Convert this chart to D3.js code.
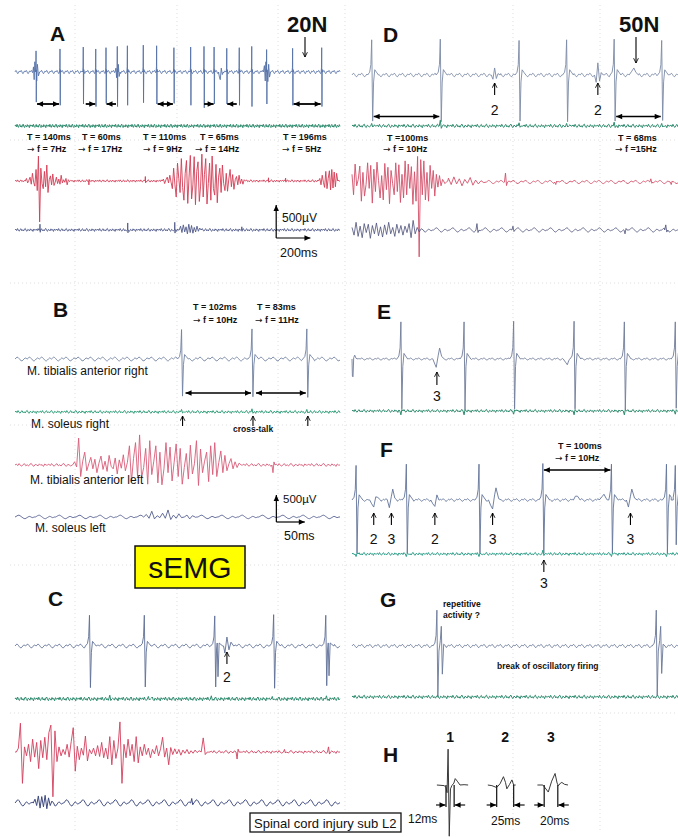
<!DOCTYPE html>
<html><head><meta charset="utf-8">
<script src="https://cdn.jsdelivr.net/npm/d3@7"></script>
<style>
body{margin:0;background:#fff}
svg{display:block}
text{font-family:'Liberation Sans',Arial,sans-serif;fill:#111}
.pl{font-weight:bold;font-size:21px}
.fn{font-weight:bold;font-size:22px}
.an{font-weight:bold;font-size:9px}
.ar{font-family:'DejaVu Sans',sans-serif;font-weight:normal}
.mu{font-size:12px}
.num{font-size:14px}
.hn{font-weight:bold;font-size:14px}
</style>
</head><body>
<svg id="c" width="678" height="837"></svg>
<script>
// ---------------- DATA ----------------
// baseline wiggle patterns (µV)
const noiseFine   = [0,14,-10,22,-6,-18,8,20,-12,4,-16,12,24,-8,-20,10,2,-14,18,-4,6,-22,16,-2];
const noiseRipple = [0,12,24,20,6,-10,-22,-24,-12,2,14,8];
const noiseSlow   = [0,8,18,26,28,20,8,-4,-16,-24,-26,-18,-8,2,10,6,-2,-10,-6,0];

// motor unit templates: [ms offset, relative amplitude]
const tplFast   = [[-3,0],[-1,0.2],[0,1],[1.5,-1],[3,0.1],[5,0]];
const tplMU     = [[-6,0],[-3,0.08],[-1.2,0.3],[0,1],[1.4,-1],[2.8,-0.15],[4.5,0.15],[7,0.08],[10,0]];
const tplDouble = [[-6,0],[-3,0.08],[-1.2,0.3],[0,1],[1.4,-1],[2.6,-0.1],[3.6,0.1],[4.8,-0.75],[6.5,0.1],[9,0.05],[12,0]];
const tplRep    = [[-6,0],[-3,0.08],[-1.2,0.3],[0,1],[1.4,-1],[3,-0.1],[5,0.15],[6.5,0.55],[8,-0.55],[10,0.05],[13,0]];
const tplP2     = [[-5,0],[-2.5,-0.6],[0,1],[2.5,-0.5],[5,0.2],[8,0]];
const tplBlip   = [[-1.5,0],[0,1],[1.5,-0.4],[3,0]];

// ---- Panel A (20N), ms ----
const A_tibR_spikes = [123,263,399,472,532,598,657,750,828,929,1027,1105,1164,1238,1311,1384,1471,1623,1793];
const A_tibR_up     = [330,360,390,360,380,400,410,420,410,380,390,400,390,370,380,400,350,370,380];
const A_tibR_down   = [470,520,500,540,490,540,520,480,500,490,520,560,500,500,520,540,500,520,540];
const A_tibR_smear  = [
  [[104,0],[108,80],[112,-120],[116,160],[127,-140],[131,120],[137,-60],[144,0]],
  [[585,0],[590,60],[594,-90],[604,120],[609,-70],[614,0]],
  [[1190,0],[1195,-80],[1200,-120],[1206,60],[1212,-40],[1218,0]],
  [[1452,0],[1458,100],[1463,-140],[1467,160],[1478,-150],[1483,120],[1488,-80],[1494,0]]];
const A_intervals = [[0,1,"in"],[3,4,"out"],[8,9,"in"],[12,13,"out"],[17,18,"in"]];
const A_texts = [["T = 140ms","f = 7Hz"],["T = 60ms","f = 17Hz"],["T = 110ms","f = 9Hz"],["T = 65ms","f = 14Hz"],["T = 196ms","f = 5Hz"]];
const A_red_b1 = [0,40,-30,10,60,-50,120,-20,-80,180,-150,390,-640,200,-40,-120,150,-90,250,-180,20,80,-60,110,-70,-20,60,-40,30,-50,90,-30,20,-20,40,-60,20,-10,10,0];
const A_red_b2 = [0,30,-40,20,60,-30,90,-20,-120,200,-60,-250,280,40,-180,350,-100,-300,120,320,-350,60,400,-280,-60,380,-370,150,300,-320,-80,420,-250,100,350,-360,-40,280,-300,390,-120,-220,260,-340,60,200,-180,250,-40,-150,120,-160,30,180,-90,100,-130,20,70,-60,90,-40,30,-50,20,0];
const A_red_b3 = [0,40,-60,90,-20,-100,150,-120,40,160,-140,180,-110,140,-90,120,0];
const A_red_blips = [[432,-60],[762,70],[1482,50],[1582,45]];
const A_nav_blips = [[146,90],[659,110],[934,120],[1326,50]];
const A_nav_b1 = [0,60,-40,80,-30,50,-60,90,-40,70,-50,40,-30,60,-20,30,0];

// ---- Panel D (50N), ms ----
const D_tibR_spikes = [29,130,246,316,386,456];
const D_tibR_up     = [550,560,540,550,560,540];
const D_tibR_down   = [720,730,720,730,720,710];
const D_pot2_times  = [210,362];
const D_pot2_amp    = [110,190];
const D_bump        = [[408,0],[412,60],[415,110],[418,40],[422,0]];
const D_intervals   = [[0,1],[4,5]];
const D_texts = [["T =100ms","f = 10Hz"],["T = 68ms","f =15Hz"]];
const D_grn_blips = [[29,40],[130,90],[246,50],[316,40],[386,60],[456,40]];
const D_red_b1 = [120,-200,280,-60,40,250,-300,150,-220,-40,300,-100,260,-330,200,-150,310,20,-250,100,-280,290,-120,230,-340,180,-20,-200,300,-150,270,-320,120,-250,330,-200,280,-100,240,-350,160,-300,400,-1170,350,-200,330,-280,150,-300,260,-100,180,-220,120,-80,100,-60,40,0];
const D_red_b2 = [60,-40,80,-30,50,-60,40,-20,70,-50,30,-30,20,-10,0];
const D_red_blips = [[226,140],[300,-40],[440,50],[470,-40]];
const D_nav_b1 = [40,-80,120,-100,60,-120,100,-40,90,-130,70,-60,110,-90,50,-110,80,-70,120,-60,40,-100,90,-50,70,-80,60,-40,100,-120,150,-60,40,-30,20,0];
const D_nav_blips = [[184,100],[237,60],[402,-60],[462,80]];

// ---- Panel B, ms ----
const B_tibR_spikes = [246,350,431];
const B_tibR_up     = [460,470,470];
const B_tibR_down   = [580,590,600];
const B_intervals   = [[0,1],[1,2]];
const B_texts = [["T = 102ms","f = 10Hz"],["T = 83ms","f = 11Hz"]];
const B_muscles = ["M. tibialis anterior right","M. soleus right","M. tibialis anterior left","M. soleus left"];
const B_grn_blips = [[246,40],[350,50],[431,40]];
const B_red_b1 = [0,50,-30,420,-180,60,200,-90,20,120,-60,90,-120,30,140,-70,60,-100,150,-20,-60,110,-140,80,-50,160,-90,40,300,-260,100,350,-180,470,-200,-40,260,-300,380,-150,60,300,-280,200,-310,-60,350,-120,280,-250,40,330,-180,260,-300,-40,180,-220,310,-140,20,380,-320,250,-120,60,200,-260,300,-150,350,-180,40,220,-120,150,-90,20,100,-60,50,-40,30,0];
const B_red_blips = [[381,-120]];
const B_nav_b1 = [0,40,-20,90,-30,20,-10,60,-20,110,-40,30,-20,50,-10,0,30,-30,20,0];

// ---- Panel C, ms ----
const C_tibR_spikes = [110,191,295,382,459];
const C_tibR_kind   = ["s","s","d","s","d"];
const C_tibR_up     = [480,480,470,490,480];
const C_tibR_down   = [650,640,640,660,620];
const C_pot2        = [[308,0],[310,-110],[313,140],[316,-60],[319,60],[323,0]];
const C_grn_blips   = [[140,60],[197,40],[290,50],[380,40],[460,50]];
const C_red_b1 = [0,60,450,-490,80,-60,120,-150,200,-80,150,-260,180,-90,230,-120,300,420,-700,330,-150,80,-60,40,-40,120,-80,160,380,-300,90,-120,60,-50,250,-140,40,-30,60,-60,100,-70,150,-90,60,-110,240,-200,180,-100,60,470,-490,120,-90,200,-60,120,-150,240,-170,80,-60,120,-40,60,-90,40,-30,100,-60,50,230,-80,60,-200,70,-40,50,-30,40,-50,30,-20,40,-30,20,-20,30,-10,20,0,220,-40,0];
const C_red_blips = [[328,-110],[398,40],[463,80]];
const C_nav_b1 = [0,60,-40,110,-80,100,-60,120,-90,80,-40,30,0];
const C_nav_blips = [[261,70]];

// ---- Panel E, ms ----
const E_tibR_spikes = [72,165,238,327,401,476];
const E_tibR_up     = [580,580,590,590,580,580];
const E_tibR_down   = [780,790,780,780,790,770];
const E_lead = [[0,0],[0.6,-270],[1.5,-280],[2.5,20],[4,60],[6,10],[9,0]];
const E_pot3 = [[119,0],[122,-80],[124,-130],[127,60],[129,170],[132,40],[136,0]];
const E_dip  = [[311,0],[315,-60],[317,-90],[319,-30]];
const E_grn_blips = [[72,-60],[165,-60],[238,-50],[327,-60],[401,-60],[476,-50]];

// ---- Panel F, ms ----
const F_tibR_spikes = [6,80,187,281,382,463,476];
const F_tibR_up     = [540,560,560,570,560,560,540];
const F_tibR_down   = [830,830,830,830,830,830,700];
const F_pots = [
  [[26,0],[29,-60],[32,-110],[35,50],[38,40],[42,0]],
  [[52,0],[55,-120],[58,60],[60,170],[63,30],[66,0]],
  [[116,0],[119,-60],[122,-100],[125,80],[128,0]],
  [[201,0],[204,-80],[207,-140],[210,80],[212,190],[216,20],[220,0]],
  [[326,0],[329,60],[332,60],[336,0]],
  [[364,0],[368,50],[371,90],[374,30],[378,0]],
  [[404,0],[407,-110],[410,60],[412,170],[416,30],[420,0]]];
const F_labels = [["2",32],["3",58],["2",122],["3",207],["3",410]];
const F_intervals = [[3,4]];
const F_texts = ["T = 100ms","f = 10Hz"];
const F_grn_blips = [[6,-40],[80,-40],[187,-40],[281,60],[382,-40],[463,-40]];

// ---- Panel G, ms ----
const G_tibR_spikes = [125,448];
const G_tibR_up     = [560,560];
const G_tibR_down   = [800,780];
const G_texts = ["repetitive","activity ?","break of oscillatory firing"];

// ---- Panel H (templates), ms / µV ----
const H_mu1 = [[125,0],[136,-10],[138.4,-40],[140,-120],[141.5,560],[143.2,-800],[145,-60],[147,-10],[150,30],[152,100],[155,60],[159,0],[165,5],[171,0]];
const H_mu2 = [[200,0],[206,-10],[213,-40],[218,20],[223,130],[226,40],[228,-60],[232,10],[235.5,80],[238,0],[241,0]];
const H_mu3 = [[273,0],[281,0],[284,-40],[289,-110],[294,60],[299,180],[302,30],[304,-10],[307,30],[309,40],[313,10],[318,0]];
const H_marks  = [[138.4,150.4],[213,238],[283,303]];
const H_names  = ["1","2","3"];
const H_widths = ["12ms","25ms","20ms"];

// ---------------- DRAWING ----------------
const svg = d3.select("#c");
const defs = svg.append("defs");
defs.append("marker").attr("id","ah").attr("viewBox","0 0 10 10").attr("refX",10).attr("refY",5)
  .attr("markerUnits","userSpaceOnUse").attr("markerWidth",7).attr("markerHeight",6).attr("orient","auto-start-reverse")
  .append("path").attr("d","M0,0.5 L10,5 L0,9.5 z").attr("fill","#000");
defs.append("marker").attr("id","ch").attr("viewBox","0 0 10 10").attr("refX",9).attr("refY",5)
  .attr("markerUnits","userSpaceOnUse").attr("markerWidth",6).attr("markerHeight",6).attr("orient","auto")
  .append("path").attr("d","M1,1 L9,5 L1,9").attr("fill","none").attr("stroke","#000").attr("stroke-width",1.4);
defs.append("clipPath").attr("id","clipL").append("rect").attr("x",12).attr("y",0).attr("width",331).attr("height",837);
defs.append("clipPath").attr("id","clipR").append("rect").attr("x",350).attr("y",0).attr("width",328).attr("height",837);

// faint paper grid
const gridG = svg.append("g").attr("stroke","#d6d6d6").attr("stroke-width",0.8).attr("stroke-dasharray","1,3");
[75,177,278,345,513,600].forEach(x=>gridG.append("line").attr("x1",x).attr("x2",x).attr("y1",5).attr("y2",832));
[140,283,425,565,713].forEach(y=>gridG.append("line").attr("x1",10).attr("x2",676).attr("y1",y).attr("y2",y));

const xA = d3.scaleLinear().domain([0,1900]).range([15,340]);
const xL = d3.scaleLinear().domain([0,480]).range([15,340]);
const xR = d3.scaleLinear().domain([0,480]).range([352,678]);
const yAt = base => d3.scaleLinear().domain([0,500]).range([base, base-32]);

function spikeGroups(times, ups, downs, tpl, kinds){
  return times.map((t,i)=>{
    const tp = kinds ? (kinds[i]==="d" ? tplDouble : tpl) : tpl;
    return tp.map(([dt,r])=>[t+dt, r>=0 ? r*ups[i] : r*downs[i]]);
  });
}
function burst(start, step, vals){ return [vals.map((v,i)=>[start+i*step, v])]; }
function blips(list, tpl){ return list.map(([t,a])=>tpl.map(([dt,r])=>[t+dt, r*a])); }
function potGroups(times, amps, tpl){ return times.map((t,i)=>tpl.map(([dt,r])=>[t+dt, r*amps[i]])); }

function trace(x, base, color, o){
  const y = yAt(base);
  const [d0,d1] = x.domain();
  const groups = o.groups || [];
  const spans = groups.map(g=>[d3.min(g,d=>d[0]), d3.max(g,d=>d[0])]);
  const pts = [];
  for(let i=0;;i++){
    const t = d0 + i*o.step; if(t>d1) break;
    if(spans.some(s=>t>=s[0]-o.step*0.5 && t<=s[1]+o.step*0.5)) continue;
    pts.push([t, o.noise[i%o.noise.length]*o.amp]);
  }
  groups.forEach(g=>g.forEach(p=>pts.push(p)));
  pts.sort((a,b)=>a[0]-b[0]);
  svg.append("path").attr("d", d3.line().x(d=>x(d[0])).y(d=>y(d[1]))(pts))
    .attr("fill","none").attr("stroke",color).attr("stroke-width",o.w||0.9)
    .attr("stroke-linejoin","round").attr("clip-path", x.range()[0]<100 ? "url(#clipL)" : "url(#clipR)");
}
function text(x,y,s,cls,anchor){
  return svg.append("text").attr("x",x).attr("y",y).attr("class",cls).attr("text-anchor",anchor||"start").text(s);
}
// "→ f = ..." line: arrow glyph from DejaVu Sans
function ftext(x,y,s){
  const t = svg.append("text").attr("x",x).attr("y",y).attr("class","an");
  t.append("tspan").attr("class","ar").text("→");
  t.append("tspan").text(" "+s);
  return t;
}
function arrowLine(x1,y1,x2,y2,dbl,w){
  const l = svg.append("line").attr("x1",x1).attr("y1",y1).attr("x2",x2).attr("y2",y2)
    .attr("stroke","#000").attr("stroke-width",w||1.6).attr("marker-end","url(#ah)");
  if(dbl) l.attr("marker-start","url(#ah)");
}
function upArrow(x,y1,y2){
  svg.append("line").attr("x1",x).attr("x2",x).attr("y1",y1).attr("y2",y2)
    .attr("stroke","#000").attr("stroke-width",1.1).attr("marker-end","url(#ch)");
}

// ===== Panel A =====
const blueA="#5572a8", green="#2e8b6e", redA="#d43c55", navA="#505a8a";
trace(xA,72,blueA,{step:2.5,noise:noiseRipple,amp:1,w:0.9,
  groups:spikeGroups(A_tibR_spikes,A_tibR_up,A_tibR_down,tplFast).concat(A_tibR_smear)});
trace(xA,126,green,{step:4,noise:noiseFine,amp:1.2,w:1});
trace(xA,181,redA,{step:5,noise:noiseFine,amp:0.8,w:0.9,
  groups:burst(60,7,A_red_b1).concat(burst(860,7.5,A_red_b2),burst(1775,7,A_red_b3),blips(A_red_blips,tplBlip))});
trace(xA,230,navA,{step:5,noise:noiseFine,amp:1,w:0.9,
  groups:blips(A_nav_blips,tplBlip).concat(burst(960,8,A_nav_b1))});
A_intervals.forEach(([i,j,k])=>{
  const a=xA(A_tibR_spikes[i]), b=xA(A_tibR_spikes[j]);
  if(k==="in") arrowLine(a+1,104,b-1,104,true,1.8);
  else { arrowLine(a-10,104,a-0.5,104,false,1.8); arrowLine(b+10,104,b+0.5,104,false,1.8); }
});
text(50,40.5,"A","pl");
text(287,31.5,"20N","fn");
upArrow(305,37,57);
[[27,27],[82,78],[143,143],[200,195],[283,282]].forEach(([x1,x2],i)=>{
  text(x1,140,A_texts[i][0],"an"); ftext(x2,151.5,A_texts[i][1]);
});
// scale bar A: 500 µV / 200 ms
{
  const yS=yAt(238), t0=1527;
  arrowLine(xA(t0),yS(0),xA(t0),yS(500)-1,false,1.2);
  arrowLine(xA(t0),yS(0),xA(t0+200),yS(0),false,1.2);
  text(282,221.5,"500µV","mu");
  text(280,256.5,"200ms","mu").style("font-size","12.5px");
}

// ===== Panel D =====
const blueD="#7c8aa6", redD="#d2506a", navD="#4a4f78";
trace(xR,75,blueD,{step:1,noise:noiseRipple,amp:1.1,w:0.9,
  groups:spikeGroups(D_tibR_spikes,D_tibR_up,D_tibR_down,tplMU).concat(potGroups(D_pot2_times,D_pot2_amp,tplP2),[D_bump])});
trace(xR,126,green,{step:1.5,noise:noiseFine,amp:1.2,w:1,groups:blips(D_grn_blips,tplBlip)});
trace(xR,182,redD,{step:1.5,noise:noiseRipple,amp:1,w:0.9,
  groups:burst(0,2.3,D_red_b1).concat(burst(142,4,D_red_b2),blips(D_red_blips,tplBlip))});
trace(xR,230,navD,{step:1.2,noise:noiseSlow,amp:1.2,w:0.8,
  groups:burst(0,3,D_nav_b1).concat(blips(D_nav_blips,tplBlip))});
D_intervals.forEach(([i,j])=>arrowLine(xR(D_tibR_spikes[i])+2,116.5,xR(D_tibR_spikes[j])-1,116.5,true,1.6));
text(383,41.5,"D","pl");
text(619,31.5,"50N","fn");
upArrow(636,37,63);
D_pot2_times.forEach(t=>{ upArrow(xR(t),95,83); text(xR(t),115,"2","num","middle"); });
text(387,140.5,D_texts[0][0],"an"); ftext(383,151.5,D_texts[0][1]);
text(618,140.5,D_texts[1][0],"an"); ftext(615,151.5,D_texts[1][1]);

// ===== Panel B =====
const blueB="#6f80a0", greenB="#33a07a", redB="#d85c78", navB="#555f90";
trace(xL,359,blueB,{step:1.5,noise:noiseRipple,amp:1.2,w:0.9,
  groups:spikeGroups(B_tibR_spikes,B_tibR_up,B_tibR_down,tplMU)});
trace(xL,412,greenB,{step:1.5,noise:noiseFine,amp:1,w:1,groups:blips(B_grn_blips,tplBlip)});
trace(xL,465,redB,{step:2,noise:noiseFine,amp:1,w:0.9,
  groups:burst(85,3,B_red_b1).concat(blips(B_red_blips,tplBlip))});
trace(xL,517,navB,{step:1.5,noise:noiseSlow,amp:1,w:0.9,groups:burst(190,4,B_nav_b1)});
B_intervals.forEach(([i,j])=>arrowLine(xL(B_tibR_spikes[i])+4,393,xL(B_tibR_spikes[j])-1,393,true,1.6));
text(53,317,"B","pl");
text(193,310,B_texts[0][0],"an"); ftext(193,322.5,B_texts[0][1]);
text(257,310,B_texts[1][0],"an"); ftext(255,322.5,B_texts[1][1]);
text(27,374.5,B_muscles[0],"mu");
text(31,427.5,B_muscles[1],"mu");
text(30,483.5,B_muscles[2],"mu");
text(35,531.5,B_muscles[3],"mu");
B_tibR_spikes.forEach(t=>upArrow(xL(t)+1,426,416));
text(233,431.5,"cross-talk","an").style("font-size","8.5px");
{
  const yS=yAt(522), t0=386;
  arrowLine(xL(t0),yS(0),xL(t0),yS(420),false,1.2);
  arrowLine(xL(t0),yS(0),xL(t0+42),yS(0),false,1.2);
  text(283,503,"500µV","mu").style("font-size","11.5px");
  text(284,540,"50ms","mu").style("font-size","12.5px");
}

// sEMG box
svg.append("rect").attr("x",135).attr("y",546).attr("width",110).attr("height",42)
  .attr("fill","#ffff00").attr("stroke","#111").attr("stroke-width",1.5);
text(190,578,"sEMG","").attr("text-anchor","middle").style("font-size","30px");

// ===== Panel C =====
const blueC="#5d6e95", redC="#d2405e", navC="#3f4a80";
trace(xL,646,blueC,{step:1.3,noise:noiseRipple,amp:1.2,w:0.9,
  groups:spikeGroups(C_tibR_spikes,C_tibR_up,C_tibR_down,tplMU,C_tibR_kind).concat([C_pot2])});
trace(xL,699,green,{step:1.3,noise:noiseFine,amp:1.3,w:1,groups:blips(C_grn_blips,tplBlip)});
trace(xL,752,redC,{step:2,noise:noiseFine,amp:1,w:0.9,
  groups:burst(2,3,C_red_b1).concat(blips(C_red_blips,tplBlip))});
trace(xL,803,navC,{step:1.2,noise:noiseSlow,amp:1.8,w:1,
  groups:burst(27,2.5,C_nav_b1).concat(blips(C_nav_blips,tplBlip))});
text(48,606,"C","pl");
upArrow(xL(313),664,652); text(xL(313),682,"2","num","middle");
svg.append("rect").attr("x",250).attr("y",813).attr("width",151).attr("height",19)
  .attr("fill","#fff").attr("stroke","#111").attr("stroke-width",1.3);
text(254,828,"Spinal cord injury sub L2","").style("font-size","13px");

// ===== Panel E =====
const blueE="#6f7c98";
trace(xR,359,blueE,{step:1,noise:noiseRipple,amp:0.6,w:0.9,
  groups:spikeGroups(E_tibR_spikes,E_tibR_up,E_tibR_down,tplMU).concat([E_lead,E_pot3,E_dip])});
trace(xR,411,green,{step:1.5,noise:noiseFine,amp:1,w:1,groups:blips(E_grn_blips,tplBlip)});
text(377,319,"E","pl");
upArrow(xR(125),385,372); text(xR(125),400.5,"3","num","middle");

// ===== Panel F =====
const blueF="#62749a", greenF="#2fa08a";
trace(xR,500,blueF,{step:1,noise:noiseRipple,amp:0.8,w:0.9,
  groups:spikeGroups(F_tibR_spikes,F_tibR_up,F_tibR_down,tplMU).concat(F_pots)});
trace(xR,554,greenF,{step:1.5,noise:noiseFine,amp:1,w:1,groups:blips(F_grn_blips,tplBlip)});
text(380,457,"F","pl");
F_labels.forEach(([s,t])=>{ upArrow(xR(t),525,513); text(xR(t),543.5,s,"num","middle"); });
F_intervals.forEach(([i,j])=>arrowLine(xR(F_tibR_spikes[i])+1,470,xR(F_tibR_spikes[j])-1,470,true,1.6));
text(558,449,F_texts[0],"an"); ftext(555,460.5,F_texts[1]);
upArrow(xR(F_tibR_spikes[3])+1,572,560); text(xR(F_tibR_spikes[3])+1,588,"3","num","middle");

// ===== Panel G =====
const blueG="#6a7898";
trace(xR,646,blueG,{step:1,noise:noiseRipple,amp:1,w:0.9,
  groups:spikeGroups(G_tibR_spikes,G_tibR_up,G_tibR_down,tplRep)});
trace(xR,697,green,{step:1.5,noise:noiseFine,amp:1.2,w:1});
text(380,606.5,"G","pl");
text(443,607,G_texts[0],"an").style("font-size","8.5px");
text(443,617.5,G_texts[1],"an").style("font-size","8.5px");
text(497,668.5,G_texts[2],"an").style("font-size","8.5px");

// ===== Panel H =====
{
  const yH = yAt(785);
  const ln = d3.line().x(d=>xR(d[0])).y(d=>yH(d[1]));
  [H_mu1,H_mu2,H_mu3].forEach(w=>svg.append("path").attr("d",ln(w)).attr("fill","none")
     .attr("stroke","#3a3a3a").attr("stroke-width",1));
  H_marks.forEach(([a,b],i)=>{
    [a,b].forEach(t=>svg.append("line").attr("x1",xR(t)).attr("x2",xR(t)).attr("y1",yH(0)).attr("y2",807)
      .attr("stroke","#222").attr("stroke-width",1.3));
    arrowLine(xR(a)-10,805,xR(a)-0.5,805,false,1.1);
    arrowLine(xR(b)+11,805,xR(b)+0.5,805,false,1.1);
    text((xR(a)+xR(b))/2,742,H_names[i],"hn","middle");
  });
  text(408,823,H_widths[0],"mu");
  text(491,825,H_widths[1],"mu");
  text(540,825,H_widths[2],"mu");
  text(383,761.5,"H","pl");
}
</script>
</body></html>
